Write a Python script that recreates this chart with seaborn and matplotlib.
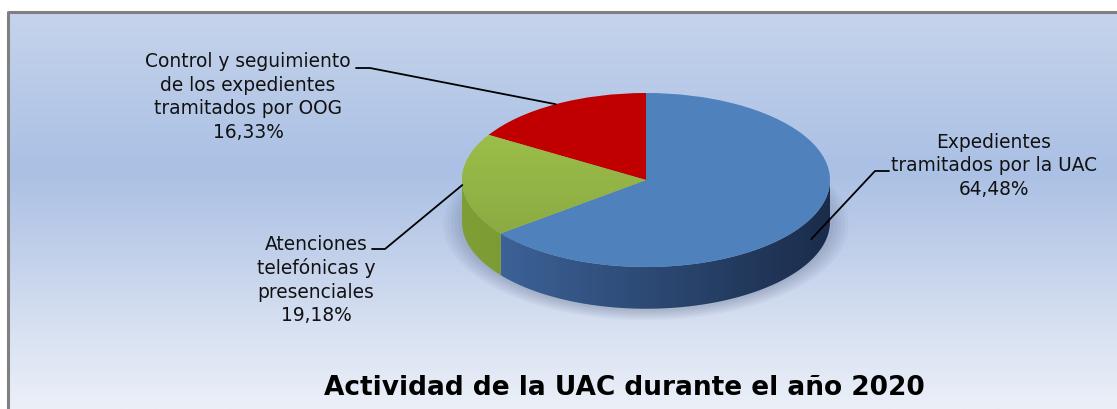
import numpy as np
import matplotlib
matplotlib.use("Agg")
import matplotlib.pyplot as plt
from matplotlib.patches import Polygon
from matplotlib.colors import LinearSegmentedColormap
import seaborn as sns

# datos
categorias = ["Expedientes\ntramitados por la UAC",
              "Atenciones\ntelefónicas y\npresenciales",
              "Control y seguimiento\nde los expedientes\ntramitados por OOG"]
porcentajes = [64.48, 19.18, 16.33]
titulo = "Actividad de la UAC durante el año 2020"

colores_sup = ["#4f81bd", "#9bbb59", "#c00000"]
degradado_sup = [None, ("#a2c54c", "#86a540"), None]
colores_lado = [("#4068a0", "#1a2c4a"), ("#7f9e34", "#6a882b"), ("#900000", "#700000")]
fondo = ["#c6d4ec", "#b8cae8", "#aac0e4", "#c0cfea", "#d8e1f2", "#ebf0f8"]

sns.set_style("white")
plt.rcParams["font.family"] = ["DejaVu Sans"]

W, H = 1117, 410
fig = plt.figure(figsize=(W / 100, H / 100), dpi=100)

# fondo en coordenadas de pixel
bg = fig.add_axes([0, 0, 1, 1], zorder=0)
bg.set_xlim(0, W)
bg.set_ylim(H, 0)
bg.axis("off")
cmap_bg = sns.blend_palette(fondo, as_cmap=True)
grad = np.linspace(0, 1, 256).reshape(-1, 1)
bg.imshow(grad, cmap=cmap_bg, extent=(8, W, H, 12), aspect="auto", origin="upper")
bg.plot([8, W], [12.5, 12.5], color="#808080", lw=2.2, solid_capstyle="butt")
bg.plot([8, 8], [11.5, H], color="#808080", lw=2.2, solid_capstyle="butt")

# tarta: unidades de radio, elipse de 184 x 87 px centrada en (646, 181)
cx, cy, rx, ry = 646, 181, 184, 87
ax = fig.add_axes([0, 0, 1, 1], zorder=1)
ax.patch.set_alpha(0)
wedges, _ = ax.pie(porcentajes, colors=colores_sup, startangle=90, counterclock=False,
                   radius=1, center=(0, 0), wedgeprops=dict(linewidth=0, zorder=3))
ax.set_aspect("auto")
ax.axis("off")

prof = 0.48  # grosor del disco

# sombra suave
for k in range(6):
    t = np.linspace(0, 2 * np.pi, 200)
    s = 1.0 + 0.02 * k
    ax.fill(s * np.cos(t), s * np.sin(t) - prof - 0.03, color="#203050", alpha=0.04,
            lw=0, zorder=1)

# degradado sobre la cara superior
for w, dg in zip(wedges, degradado_sup):
    if dg is None:
        continue
    cm = LinearSegmentedColormap.from_list("sup", list(dg))
    im = ax.imshow(np.linspace(0, 1, 256).reshape(-1, 1), cmap=cm,
                   extent=(-1, 1, -1, 1), origin="upper", aspect="auto", zorder=3.5)
    im.set_clip_path(w)

# laterales visibles (mitad frontal)
for w, (c1, c2) in zip(wedges, colores_lado):
    for k in (-360, 0, 360):
        a1 = max(w.theta1 + k, 180)
        a2 = min(w.theta2 + k, 360)
        if a2 <= a1:
            continue
        t = np.radians(np.linspace(a1, a2, 120))
        xs = np.concatenate([np.cos(t), np.cos(t[::-1])])
        ys = np.concatenate([np.sin(t), np.sin(t[::-1]) - prof])
        poly = Polygon(np.column_stack([xs, ys]), closed=True, fc="none", lw=0, zorder=2)
        ax.add_patch(poly)
        cm = LinearSegmentedColormap.from_list("lado", [c1, c2])
        im = ax.imshow(np.linspace(0, 1, 256).reshape(1, -1), cmap=cm,
                       extent=(-1, 1, -1 - prof, 0.2), aspect="auto", zorder=2)
        im.set_clip_path(poly)

ax.set_xlim(-cx / rx, (W - cx) / rx)
ax.set_ylim(-(H - cy) / ry, cy / ry)

# etiquetas con lineas guia
pos_texto = [(994, 166), (316, 280), (248, 97)]
codo = [((875, 172), (889, 172)), ((385, 250), (372, 250)), ((370, 69), (356, 69))]

def a_unid(p):
    return ((p[0] - cx) / rx, (cy - p[1]) / ry)

for w, nom, val, pt, (e1, e2) in zip(wedges, categorias, porcentajes, pos_texto, codo):
    m = np.radians((w.theta1 + w.theta2) / 2)
    tx, ty = np.cos(m), np.sin(m)
    if ty < -0.3:
        ty -= prof / 2
    p1, p2 = a_unid(e1), a_unid(e2)
    ax.plot([tx, p1[0], p2[0]], [ty, p1[1], p2[1]], color="black", lw=1.3, zorder=4)
    etiqueta = f"{nom}\n{val:.2f}%".replace(".", ",")
    tpos = a_unid(pt)
    ax.text(tpos[0], tpos[1], etiqueta, ha="center", va="center", multialignment="center",
            fontsize=13.4, linespacing=1.3, color="#111111", zorder=5)

bg.text(624, 388, titulo, ha="center", va="center", fontsize=19, fontweight="bold",
        color="black")

fig.savefig("out.png", dpi=100)
